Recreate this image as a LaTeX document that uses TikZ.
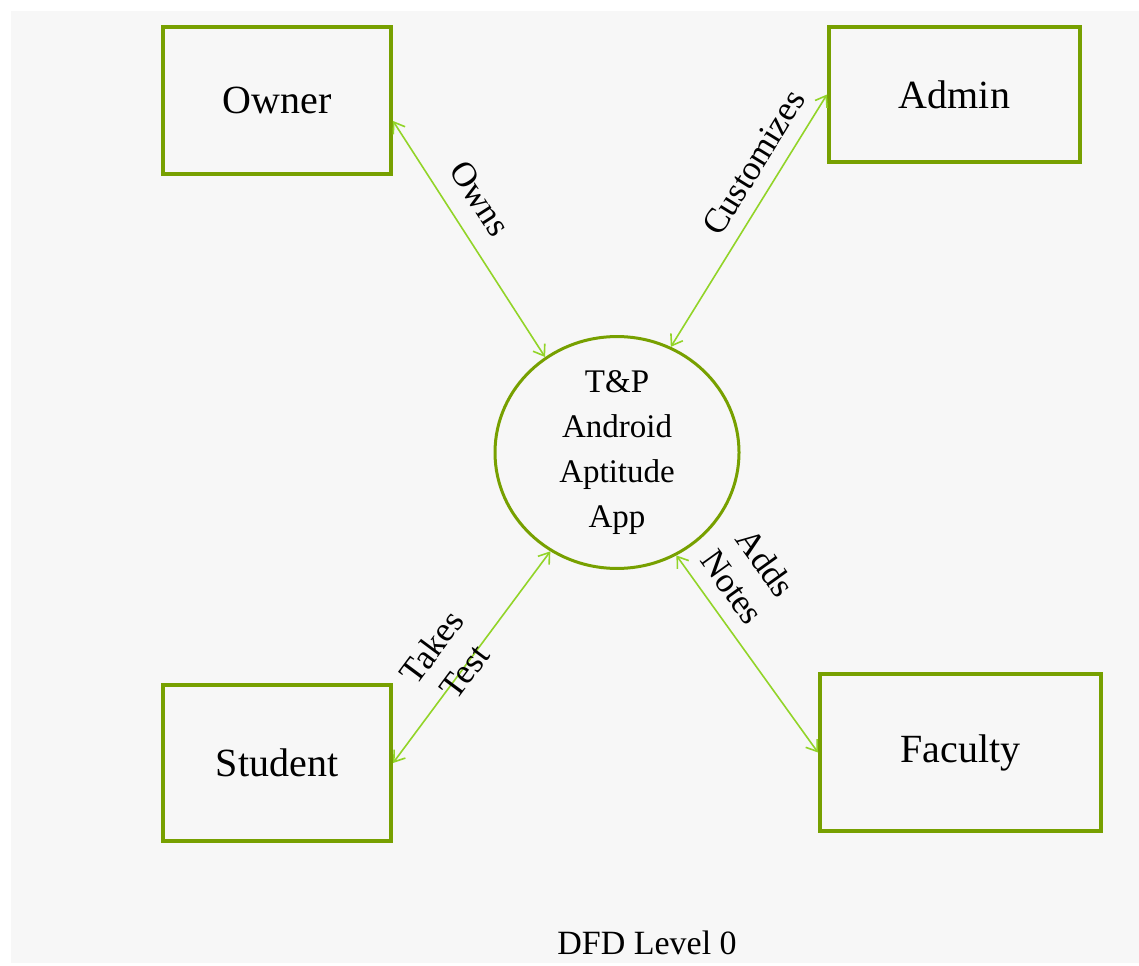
\documentclass[tikz,border=0pt]{standalone}
\usepackage{fontspec}
\setmainfont{Liberation Serif}
\usetikzlibrary{positioning,shapes.geometric,arrows.meta}
\definecolor{boxgreen}{RGB}{119,160,0}
\definecolor{flowgreen}{RGB}{146,212,40}
\definecolor{paper}{RGB}{247,247,247}

\begin{document}
\begin{tikzpicture}[x=1pt,y=1pt,>={Straight Barb[length=5pt,width=7pt]},on grid,
		entity/.style={draw=boxgreen,line width=2pt,inner sep=0pt,font=\fontsize{20}{24}\selectfont},
		process/.style={ellipse,draw=boxgreen,line width=1.5pt,inner sep=0pt,minimum width=122pt,minimum height=115.5pt,align=center,font=\fontsize{16.5}{22.5}\selectfont},
		flow/.style={<->,draw=flowgreen,line width=0.8pt},
		flowlabel/.style={sloped,align=center,inner sep=0pt,font=\fontsize{17.5}{20.5}\selectfont}]
			\useasboundingbox (0,0) rectangle (569.5,482.5);
			\fill[paper] (5.5,1) rectangle (569.5,477);

			\node[process] (app) at (308.5,256.25) {T\&P\\Android\\Aptitude\\App};
			\node[entity,minimum width=114pt,minimum height=73.5pt] (owner) [above left=176pt and 170pt of app] {Owner};
			\node[entity,minimum width=125.5pt,minimum height=67.5pt] (admin) [above right=179pt and 168.75pt of app] {Admin};
			\node[entity,minimum width=114pt,minimum height=78pt] (student) [below left=155.25pt and 170pt of app] {Student};
			\node[entity,minimum width=140.5pt,minimum height=78.5pt] (faculty) [below right=150pt and 171.75pt of app] {Faculty};
			\node[font=\fontsize{17}{20}\selectfont] (title) [below right=245.25pt and 15pt of app] {DFD Level 0};

			\draw 	(owner.-10) edge[flow] node[flowlabel,pos=0.40,yshift=15.5pt] {Owns} (app.127)
					(app.63) edge[flow] node[flowlabel,pos=0.675,yshift=13.3pt] {Customizes} (admin.west)
					(student.east) edge[flow] node[flowlabel,pos=0.44,yshift=9pt] {Takes\\Test} (app.236)
					(app.-60) edge[flow] node[flowlabel,pos=0.24,yshift=23.9pt] {Adds\\Notes} (faculty.west);
\end{tikzpicture}
\end{document}
